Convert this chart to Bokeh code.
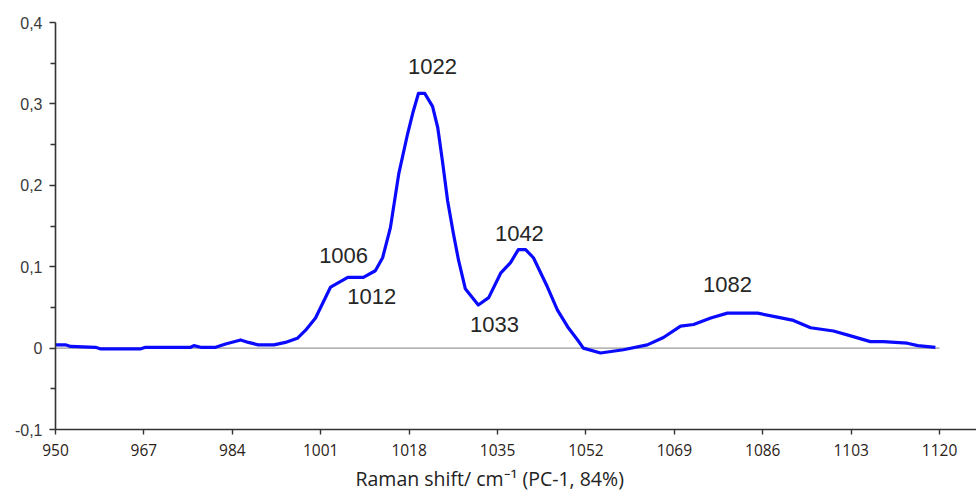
from bokeh.plotting import figure
from bokeh.models import FixedTicker, CustomJSTickFormatter, Range1d, Label, Title
from bokeh.embed import file_html
from bokeh.resources import INLINE

# --- data ---
wavenumber = [950.0, 951.9, 952.9, 957.7, 958.7, 966.3, 967.3, 976.0, 976.6, 977.9,
              980.8, 982.7, 985.6, 987.1, 989.0, 992.0, 994.2, 996.5, 998.1, 1000.0,
              1002.9, 1006.2, 1009.2, 1011.5, 1012.9, 1014.4, 1016.0, 1017.7, 1018.8,
              1019.8, 1021.0, 1022.5, 1023.5, 1024.4, 1025.4, 1026.5, 1027.5, 1028.8,
              1031.3, 1033.3, 1035.6, 1037.5, 1039.0, 1040.4, 1041.9, 1044.6, 1046.5,
              1048.5, 1050.4, 1051.5, 1054.8, 1059.2, 1063.8, 1066.9, 1070.2, 1072.7,
              1076.0, 1079.2, 1085.0, 1088.8, 1091.9, 1095.2, 1099.6, 1102.9, 1106.7,
              1109.2, 1113.8, 1115.8, 1119.2]
pc1_loading = [0.004, 0.004, 0.002, 0.001, -0.001, -0.001, 0.001, 0.001, 0.003, 0.001,
               0.001, 0.005, 0.010, 0.007, 0.004, 0.004, 0.007, 0.012, 0.022, 0.037,
               0.075, 0.087, 0.087, 0.095, 0.111, 0.148, 0.214, 0.263, 0.291,
               0.313, 0.313, 0.297, 0.271, 0.230, 0.181, 0.141, 0.108, 0.073,
               0.053, 0.062, 0.092, 0.105, 0.121, 0.121, 0.111, 0.075, 0.047,
               0.026, 0.010, 0.000, -0.006, -0.002, 0.004, 0.013, 0.027, 0.029,
               0.037, 0.043, 0.043, 0.038, 0.034, 0.025, 0.021, 0.015, 0.008,
               0.008, 0.006, 0.003, 0.001]

x_ticks = [950, 967, 984, 1001, 1018, 1035, 1052, 1069, 1086, 1103, 1120]
y_ticks = [-0.1, 0.0, 0.1, 0.2, 0.3, 0.4]

peak_labels = ["1022", "1006", "1012", "1042", "1033", "1082"]
peak_label_x = [1022.5, 1005.4, 1010.8, 1039.2, 1034.4, 1079.2]
peak_label_y = [0.346, 0.114, 0.063, 0.141, 0.029, 0.078]

x_title = "Raman shift/ cm\u207b\u00b9 (PC-1, 84%)"

p = figure(width=976, height=495, output_backend="svg", toolbar_location=None,
           x_range=Range1d(950, 1127.1), y_range=Range1d(-0.1, 0.4),
           min_border_left=55, min_border_right=0, min_border_top=22, min_border_bottom=10)
p.outline_line_color = None
p.xgrid.visible = False
p.ygrid.visible = False
p.background_fill_color = "white"
p.border_fill_color = "white"

# zero reference line
p.line([x_ticks[0], x_ticks[-1]], [0, 0], line_color="#9a9a9a", line_width=1.2)

# spectrum
p.line(wavenumber, pc1_loading, line_color="#0a0aff", line_width=3.2, line_join="round")

for t, x, y in zip(peak_labels, peak_label_x, peak_label_y):
    p.add_layout(Label(x=x, y=y, text=t, text_align="center", text_baseline="middle",
                       text_font="Liberation Sans", text_font_size="22px", text_color="#262626"))

# x-axis title as a title below the axis (reference title sits left of frame centre)
p.add_layout(Title(text=x_title, align="left", offset=300, standoff=8,
                   text_font="'Open Sans', sans-serif", text_font_size="19.5px",
                   text_font_style="normal", text_color="#222222"), "below")

# y axis
ya = p.yaxis[0]
ya.ticker = FixedTicker(ticks=y_ticks, minor_ticks=[-0.05, 0.05, 0.15, 0.25, 0.35])
ya.formatter = CustomJSTickFormatter(code="""
    if (Math.abs(tick) < 1e-9) return "0";
    return tick.toFixed(1).replace('.', ',');
""")
ya.axis_line_color = "#333333"
ya.axis_line_width = 1.6
ya.major_tick_line_color = "#333333"
ya.minor_tick_line_color = "#333333"
ya.major_tick_line_width = 1.4
ya.minor_tick_line_width = 1.4
ya.major_tick_out = 6
ya.major_tick_in = 0
ya.minor_tick_out = 5
ya.minor_tick_in = 0
ya.major_label_text_font = "Liberation Sans"
ya.major_label_text_font_size = "16px"
ya.major_label_text_color = "#3a3a3a"
ya.major_label_standoff = 7

# x axis
xa = p.xaxis[0]
xa.ticker = FixedTicker(ticks=x_ticks, minor_ticks=[])
xa.axis_line_color = "#333333"
xa.axis_line_width = 1.6
xa.major_tick_line_color = "#333333"
xa.major_tick_line_width = 1.4
xa.major_tick_out = 5
xa.major_tick_in = 0
xa.major_label_text_font = "'Open Sans', sans-serif"
xa.major_label_text_font_size = "15.5px"
xa.major_label_text_color = "#2a2218"
xa.major_label_standoff = 9
xa.axis_label = None

open("out.html", "w").write(file_html(p, INLINE))
